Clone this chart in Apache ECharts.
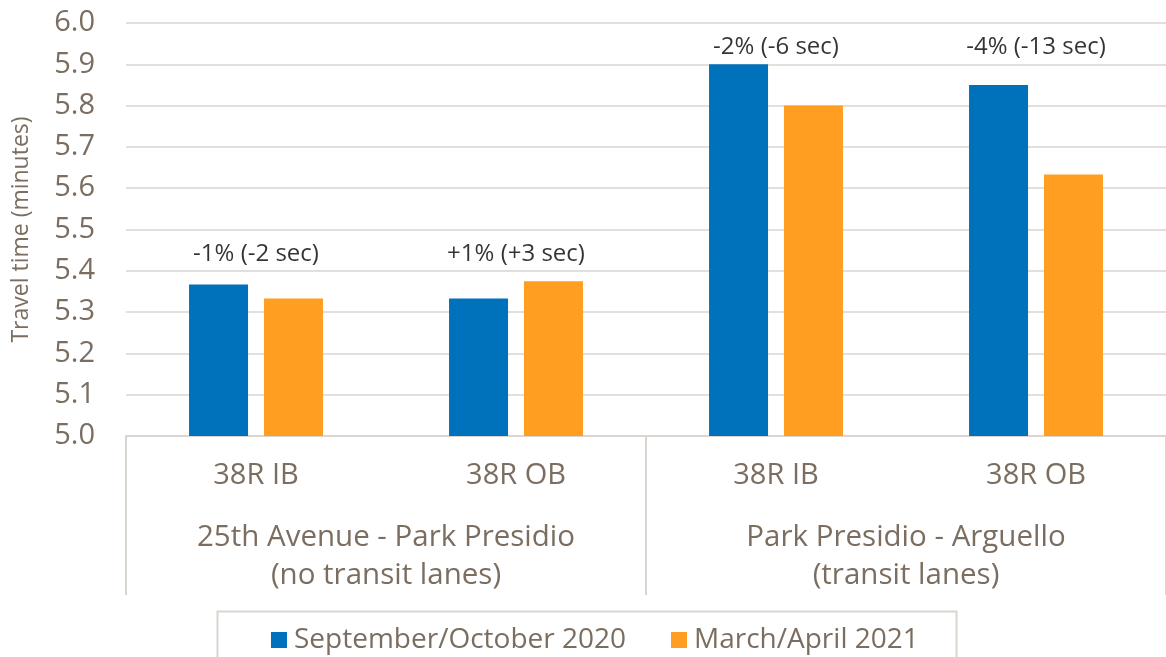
<!DOCTYPE html>
<html><head><meta charset="utf-8">
<script src="https://cdn.jsdelivr.net/npm/echarts@6/dist/echarts.min.js"></script>
<style>html,body{margin:0;padding:0;background:#fff}#c{width:1166px;height:657px}</style>
</head><body><div id="c"></div>
<script>
const categories = ['38R IB', '38R OB', '38R IB', '38R OB'];
const groups = ['25th Avenue - Park Presidio\n(no transit lanes)', 'Park Presidio - Arguello\n(transit lanes)'];
const seriesNames = ['September/October 2020', 'March/April 2021'];
const sepOct2020 = [5.367, 5.333, 5.9, 5.85];
const marApr2021 = [5.333, 5.375, 5.8, 5.633];
const changeLabels = ['-1% (-2 sec)', '+1% (+3 sec)', '-2% (-6 sec)', '-4% (-13 sec)'];
const yMin = 5.0, yMax = 6.0, yStep = 0.1;

const FONT = '"Open Sans", "Noto Sans", sans-serif';
const TXT = '#7B6E60';
const LINE = '#DAD5CF';
const BLUE = '#0071BB';
const ORANGE = '#FF9E21';

// annotation sits on the gridline just above the taller bar of each pair
const annoAt = categories.map((c, i) => Math.ceil(Math.max(sepOct2020[i], marApr2021[i]) / yStep - 1e-9) * yStep);

const chart = echarts.init(document.getElementById('c'), null, {renderer: 'canvas'});
chart.setOption({
  animation: false,
  textStyle: {fontFamily: FONT},
  grid: {left: 126, right: -8, top: 23, bottom: 221, containLabel: false},
  xAxis: [{
    type: 'category', data: categories, position: 'bottom',
    axisLine: {show: true, lineStyle: {color: LINE, width: 2}},
    axisTick: {show: false},
    axisLabel: {color: TXT, fontSize: 29, fontFamily: FONT, margin: 23, lineHeight: 34, interval: 0}
  }, {
    type: 'category', data: groups, position: 'bottom',
    axisLine: {show: false},
    axisTick: {show: true, length: 159, interval: 0, alignWithLabel: false, lineStyle: {color: LINE, width: 2}},
    axisLabel: {color: TXT, fontSize: 29.5, fontFamily: FONT, margin: 83, lineHeight: 38, interval: 0}
  }],
  yAxis: {
    type: 'value', min: yMin, max: yMax, interval: yStep,
    name: 'Travel time (minutes)', nameLocation: 'middle', nameRotate: 90, nameGap: 93,
    nameTextStyle: {color: TXT, fontSize: 23, fontFamily: FONT},
    axisLine: {show: false}, axisTick: {show: false},
    axisLabel: {color: TXT, fontSize: 29, fontFamily: FONT, margin: 31, formatter: v => v.toFixed(1)},
    splitLine: {lineStyle: {color: LINE, width: 1.5}}
  },
  legend: [{
    data: [seriesNames[0]], left: 266, top: 619, icon: 'rect', itemWidth: 16, itemHeight: 16,
    textStyle: {color: TXT, fontSize: 28, fontFamily: FONT, lineHeight: 32, padding: [0, 0, 0, 2]}
  }, {
    data: [seriesNames[1]], left: 666, top: 619, icon: 'rect', itemWidth: 16, itemHeight: 16,
    textStyle: {color: TXT, fontSize: 28, fontFamily: FONT, lineHeight: 32, padding: [0, 0, 0, 2]}
  }],
  graphic: [{
    type: 'rect', left: 215, top: 609, silent: true,
    shape: {width: 739, height: 70},
    style: {fill: 'none', stroke: LINE, lineWidth: 2}
  }],
  series: [{
    name: seriesNames[0], type: 'bar', data: sepOct2020, barWidth: 59, barGap: '27%',
    itemStyle: {color: BLUE}
  }, {
    name: seriesNames[1], type: 'bar', data: marApr2021, barWidth: 59,
    itemStyle: {color: ORANGE}
  }, {
    name: 'change', type: 'scatter', symbolSize: 1, data: annoAt,
    itemStyle: {color: 'rgba(0,0,0,0)'},
    label: {show: true, position: 'top', distance: 2, color: '#000', fontSize: 24, fontFamily: FONT,
      lineHeight: 29, formatter: p => changeLabels[p.dataIndex]}
  }]
});
</script></body></html>
